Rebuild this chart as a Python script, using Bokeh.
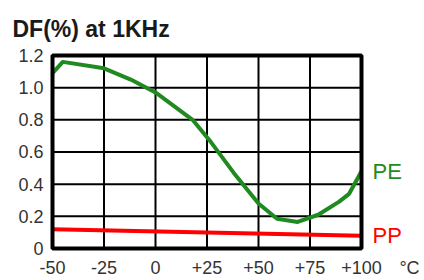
from bokeh.plotting import figure
from bokeh.models import FixedTicker, Range1d
from bokeh.core.properties import value
from bokeh.embed import file_html
from bokeh.resources import INLINE

# ---- data ----
pe_temp = [-50, -45, -25, -12, 0, 18, 27, 38, 50, 59, 69, 79, 89, 94, 100]
pe_df = [1.09, 1.16, 1.12, 1.05, 0.97, 0.80, 0.66, 0.47, 0.28, 0.185, 0.165, 0.21, 0.29, 0.34, 0.48]
pp_temp = [-50, 100]
pp_df = [0.12, 0.08]

x_ticks = [-50, -25, 0, 25, 50, 75, 100]
x_tick_labels = ["-50", "-25", "0", "+25", "+50", "+75", "+100"]
y_ticks = [0, 0.2, 0.4, 0.6, 0.8, 1.0, 1.2]
y_tick_labels = ["0", "0.2", "0.4", "0.6", "0.8", "1.0", "1.2"]
unit_label = "°C"
series_names = ["PE", "PP"]

# ---- layout (pixels) ----
W, H = 424, 280
FONT = "Liberation Sans"
GREEN = "#1f8a1f"
RED = "#ff0000"
plot_left, plot_right = 52, 361      # where x_ticks[0] / x_ticks[-1] fall
plot_top, plot_bottom = 55, 250      # where y_ticks[-1] / y_ticks[0] fall
frame_left, frame_right = 48, W
frame_top, frame_bottom = 50, 253

kx = (plot_right - plot_left) / (x_ticks[-1] - x_ticks[0])
ky = (plot_bottom - plot_top) / (y_ticks[-1] - y_ticks[0])
x_start = x_ticks[0] - (plot_left - frame_left) / kx
x_end = x_ticks[-1] + (frame_right - plot_right) / kx
y_start = y_ticks[0] - (frame_bottom - plot_bottom) / ky
y_end = y_ticks[-1] + (plot_top - frame_top) / ky
unit_x = x_ticks[-1] + 48 / kx   # position of the unit text along the x axis

p = figure(width=W, height=H, output_backend="svg", toolbar_location=None,
           x_range=Range1d(x_start, x_end), y_range=Range1d(y_start, y_end),
           min_border_left=frame_left, min_border_right=W - frame_right,
           min_border_top=frame_top, min_border_bottom=H - frame_bottom)
p.outline_line_color = None
p.xgrid.grid_line_color = None
p.ygrid.grid_line_color = None

p.title.text = "DF(%) at 1KHz"
p.title.text_font = FONT
p.title.text_font_size = "23px"
p.title.text_font_style = "bold"
p.title.text_color = "#1a1a1a"
p.title.align = "left"
p.title.offset = 12 - frame_left
p.title.standoff = 18

for ax in (p.xaxis[0], p.yaxis[0]):
    ax.axis_line_color = None
    ax.major_tick_line_color = None
    ax.minor_tick_line_color = None
    ax.major_tick_out = 0
    ax.major_tick_in = 0
    ax.major_label_text_font = FONT
    ax.major_label_text_font_size = "18px"
    ax.major_label_text_color = "#333333"

p.xaxis[0].ticker = FixedTicker(ticks=x_ticks + [unit_x])
overrides = {t: l for t, l in zip(x_ticks, x_tick_labels)}
overrides[unit_x] = unit_label
p.xaxis[0].major_label_overrides = overrides
p.xaxis[0].major_label_standoff = 6
p.yaxis[0].ticker = FixedTicker(ticks=y_ticks)
p.yaxis[0].major_label_overrides = {t: l for t, l in zip(y_ticks, y_tick_labels)}
p.yaxis[0].major_label_standoff = 5

# grid inside the plot box
p.segment(x0=x_ticks, y0=[y_ticks[0]] * len(x_ticks), x1=x_ticks, y1=[y_ticks[-1]] * len(x_ticks),
          line_color="black", line_width=2)
p.segment(x0=[x_ticks[0]] * len(y_ticks), y0=y_ticks, x1=[x_ticks[-1]] * len(y_ticks), y1=y_ticks,
          line_color="black", line_width=2)

# series
p.line(pp_temp, pp_df, line_color=RED, line_width=4)
p.line(pe_temp, pe_df, line_color=GREEN, line_width=4, line_join="round")

# plot box border
p.quad(left=[x_ticks[0]], right=[x_ticks[-1]], bottom=[y_ticks[0]], top=[y_ticks[-1]],
       fill_color=None, line_color="black", line_width=4)

# series names at the right end of each line
p.text(x=[pe_temp[-1]], y=[pe_df[-1]], text=[series_names[0]], x_offset=11,
       text_font=value(FONT), text_font_size="22px", text_color=GREEN,
       text_baseline="middle", text_align="left")
p.text(x=[pp_temp[-1]], y=[pp_df[-1]], text=[series_names[1]], x_offset=11,
       text_font=value(FONT), text_font_size="22px", text_color=RED,
       text_baseline="middle", text_align="left")

open("out.html", "w").write(file_html(p, INLINE))
